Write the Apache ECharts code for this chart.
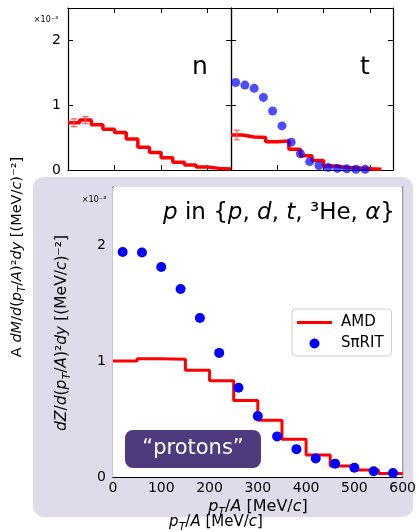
<!DOCTYPE html>
<html>
<head>
<meta charset="utf-8">
<script src="https://cdn.jsdelivr.net/npm/echarts@6/dist/echarts.min.js"></script>
<style>
  html, body { margin: 0; padding: 0; background: #ffffff; }
  #chart { width: 419px; height: 532px; }
</style>
</head>
<body>
<div id="chart"></div>
<script>
// Transverse-momentum spectra (units of 1e-3 (MeV/c)^-2), AMD histograms vs SπRIT data
const topEdges = [0, 50, 100, 150, 200, 250, 300, 350, 400, 450, 500, 550, 600, 650, 700];
const protonEdges = [0, 50, 100, 150, 200, 250, 300, 350, 400, 450, 500, 550, 600];
const amdNeutron = [0.73, 0.77, 0.70, 0.63, 0.58, 0.48, 0.35, 0.27, 0.19, 0.12, 0.077, 0.046, 0.025, 0.015];
const amdTriton = [0.54, 0.51, 0.50, 0.435, 0.446, 0.32, 0.22, 0.145, 0.06, 0.04, 0.03, 0.02, 0.01];
const amdProton = [1.00, 1.02, 1.015, 0.92, 0.83, 0.66, 0.49, 0.325, 0.19, 0.095, 0.06, 0.03];
const spiritX = [20, 60, 100, 140, 180, 220, 260, 300, 340, 380, 420, 460, 500, 540, 580];
const spiritTriton = [1.35, 1.31, 1.26, 1.12, 0.91, 0.68, 0.43, 0.25, 0.13, 0.07, 0.04, 0.025, 0.018, 0.012, 0.01];
const spiritProton = [1.94, 1.935, 1.81, 1.62, 1.37, 1.07, 0.77, 0.525, 0.35, 0.24, 0.16, 0.115, 0.08, 0.05, 0.035];
// statistical errors on the first AMD bins: [x, value, error]
const errNeutron = [[25, 0.73, 0.06], [75, 0.77, 0.055]];
const errTriton = [[25, 0.54, 0.075]];
const yTicks = [0, 1, 2];

const FONT = 'DejaVu Sans';

// histogram -> step points (last edge repeats the last value)
function stepData(edges, vals) {
  const pts = vals.map((v, i) => [edges[i], v]);
  pts.push([edges[vals.length], vals[vals.length - 1]]);
  return pts;
}
function zip(xs, ys) { return ys.map((v, i) => [xs[i], v]); }

function axisStyle(extra) {
  return Object.assign({
    axisLine: { show: true, onZero: false, lineStyle: { color: '#000', width: 1.2 } },
    axisTick: { show: true, inside: true, length: 5, lineStyle: { color: '#000', width: 1 } },
    splitLine: { show: false },
    axisLabel: { show: false },
  }, extra);
}
function xPair(grid, max, interval, labels) {
  return [
    axisStyle({ type: 'value', gridIndex: grid, min: 0, max: max, interval: interval, position: 'bottom',
      axisLabel: labels ? { show: true, color: '#000', fontFamily: FONT, fontSize: 14, margin: 4,
        formatter: v => (v > 600 ? '' : String(v)) } : { show: false } }),
    axisStyle({ type: 'value', gridIndex: grid, min: 0, max: max, interval: interval, position: 'top' }),
  ];
}
function yPair(grid, labels) {
  return [
    axisStyle({ type: 'value', gridIndex: grid, min: 0, max: 2.5, interval: 1, position: 'left',
      axisLabel: labels ? { show: true, color: '#000', fontFamily: FONT, fontSize: 14, margin: 7,
        formatter: v => (yTicks.indexOf(v) >= 0 ? String(v) : '') } : { show: false } }),
    axisStyle({ type: 'value', gridIndex: grid, min: 0, max: 2.5, interval: 1, position: 'right' }),
  ];
}

function errorSeries(name, xi, yi, data) {
  return {
    type: 'custom', name: name, xAxisIndex: xi, yAxisIndex: yi, z: 4, data: data,
    renderItem: function (params, api) {
      const x = api.value(0), y = api.value(1), e = api.value(2);
      const lo = api.coord([x, y - e]), hi = api.coord([x, y + e]);
      const st = { stroke: '#ff5a5a', lineWidth: 1.2 };
      return { type: 'group', children: [
        { type: 'line', shape: { x1: lo[0], y1: lo[1], x2: hi[0], y2: hi[1] }, style: st },
        { type: 'line', shape: { x1: lo[0] - 3, y1: lo[1], x2: lo[0] + 3, y2: lo[1] }, style: st },
        { type: 'line', shape: { x1: hi[0] - 3, y1: hi[1], x2: hi[0] + 3, y2: hi[1] }, style: st },
      ] };
    }
  };
}

// rich-text styles for math-like labels
function richSet(size) {
  return {
    n: { fontFamily: FONT, fontSize: size, color: '#000', lineHeight: size + 6, verticalAlign: 'middle' },
    i: { fontFamily: FONT, fontSize: size, fontStyle: 'italic', color: '#000', lineHeight: size + 6, verticalAlign: 'middle' },
    s: { fontFamily: FONT, fontSize: Math.round(size * 0.7), fontStyle: 'italic', color: '#000', lineHeight: Math.round(size * 0.7) + 2, verticalAlign: 'bottom' },
  };
}
const yLabelOuter = '{n|A }{i|dM}{n|/}{i|d}{n|(}{i|p}{s|T}{n|/}{i|A}{n|)²}{i|dy}{n| [(MeV/}{i|c}{n|)⁻²]}';
const yLabelInner = '{i|dZ}{n|/}{i|d}{n|(}{i|p}{s|T}{n|/}{i|A}{n|)²}{i|dy}{n| [(MeV/}{i|c}{n|)⁻²]}';
const xLabel = '{i|p}{s|T}{n|/}{i|A}{n| [MeV/}{i|c}{n|]}';
// the closing brace sits outside the rich tokens
const speciesTitle = '{i|p}{n| in {}{i|p}{n|, }{i|d}{n|, }{i|t}{n|, ³He, }{i|α}}';

const option = {
  animation: false,
  backgroundColor: '#ffffff',
  grid: [
    { left: 68, top: 8, width: 163, height: 162, show: false },
    { left: 231, top: 8, width: 162, height: 162, show: false },
    { left: 113, top: 187, width: 291, height: 290, show: true, backgroundColor: '#ffffff', borderWidth: 0, z: 1 },
  ],
  xAxis: [].concat(xPair(0, 700, 200, false), xPair(1, 700, 200, false), xPair(2, 600, 100, true)),
  yAxis: [].concat(yPair(0, true), yPair(1, false), yPair(2, true)),
  legend: {
    orient: 'vertical', left: 292, top: 309, width: 104,
    backgroundColor: '#ffffff', borderColor: '#d0d0d0', borderWidth: 1, borderRadius: 4,
    padding: [6, 8, 5, 5], itemGap: 6, itemWidth: 35, itemHeight: 10, symbolKeepAspect: true,
    textStyle: { fontFamily: FONT, fontSize: 15, color: '#000', padding: [0, 0, 0, 4] },
    data: [
      { name: 'AMD', icon: 'path://M0,0H35V3H0Z' },
      { name: 'SπRIT', icon: 'path://M5,0A5,5,0,1,1,4.999,0Z' },
    ],
    selectedMode: false,
  },
  graphic: [
    // lavender panel behind the proton spectrum
    { type: 'rect', z: -10, shape: { x: 33, y: 177, width: 380, height: 340, r: 11 }, style: { fill: '#e0dbea' } },
    // highlighted tag
    { type: 'rect', z: 100, shape: { x: 125, y: 430, width: 136, height: 38, r: 8 }, style: { fill: '#4f3a7e' } },
    { type: 'text', z: 101, x: 193, y: 449, style: { text: '“protons”', fill: '#ffffff', fontFamily: FONT, fontSize: 21, align: 'center', verticalAlign: 'middle' } },
    // scale multipliers
    { type: 'text', z: 5, x: 46, y: 20, style: { text: '×10⁻³', fill: '#000', fontFamily: FONT, fontSize: 8, align: 'center', verticalAlign: 'middle' } },
    { type: 'text', z: 5, x: 94, y: 200, style: { text: '×10⁻³', fill: '#000', fontFamily: FONT, fontSize: 8, align: 'center', verticalAlign: 'middle' } },
    // panel tags
    { type: 'text', z: 5, x: 200, y: 67, style: { text: 'n', fill: '#000', fontFamily: FONT, fontSize: 25, align: 'center', verticalAlign: 'middle' } },
    { type: 'text', z: 5, x: 365, y: 67, style: { text: 't', fill: '#000', fontFamily: FONT, fontSize: 25, align: 'center', verticalAlign: 'middle' } },
    { type: 'text', z: 5, x: 395, y: 213, style: {
      text: speciesTitle, fontFamily: FONT, fontSize: 23, fill: '#000',
      rich: richSet(23), align: 'right', verticalAlign: 'middle' } },
    // axis titles
    { type: 'text', z: 5, x: 17, y: 257, rotation: Math.PI / 2, style: { text: yLabelOuter, rich: richSet(14.5), align: 'center', verticalAlign: 'middle' } },
    { type: 'text', z: 5, x: 62, y: 333, rotation: Math.PI / 2, style: { text: yLabelInner, rich: richSet(15.5), align: 'center', verticalAlign: 'middle' } },
    { type: 'text', z: 5, x: 258, y: 507, style: { text: xLabel, rich: richSet(16), align: 'center', verticalAlign: 'middle' } },
    { type: 'text', z: 5, x: 216, y: 522, style: { text: xLabel, rich: richSet(15), align: 'center', verticalAlign: 'middle' } },
  ],
  series: [
    { type: 'line', name: 'AMD n', xAxisIndex: 0, yAxisIndex: 0, step: 'end', symbol: 'none', z: 3,
      lineStyle: { color: '#ff0000', width: 3.5 }, data: stepData(topEdges, amdNeutron) },
    errorSeries('AMD n err', 0, 0, errNeutron),
    { type: 'line', name: 'AMD t', xAxisIndex: 2, yAxisIndex: 2, step: 'end', symbol: 'none', z: 3,
      lineStyle: { color: '#ff0000', width: 3.5 }, data: stepData(topEdges, amdTriton) },
    errorSeries('AMD t err', 2, 2, errTriton),
    { type: 'scatter', name: 'SπRIT t', xAxisIndex: 2, yAxisIndex: 2, symbol: 'circle', symbolSize: 9, z: 5,
      itemStyle: { color: 'rgba(0,0,255,0.7)', opacity: 1 }, data: zip(spiritX, spiritTriton) },
    { type: 'line', name: 'AMD', xAxisIndex: 4, yAxisIndex: 4, step: 'end', symbol: 'none', z: 3,
      lineStyle: { color: '#ff0000', width: 3 }, itemStyle: { color: '#ff0000' }, data: stepData(protonEdges, amdProton) },
    { type: 'scatter', name: 'SπRIT', xAxisIndex: 4, yAxisIndex: 4, symbol: 'circle', symbolSize: 10, z: 5,
      itemStyle: { color: '#0000ff', opacity: 1 }, data: zip(spiritX, spiritProton) },
  ],
};

const chart = echarts.init(document.getElementById('chart'), null, { renderer: 'canvas' });
chart.setOption(option);
</script>
</body>
</html>
